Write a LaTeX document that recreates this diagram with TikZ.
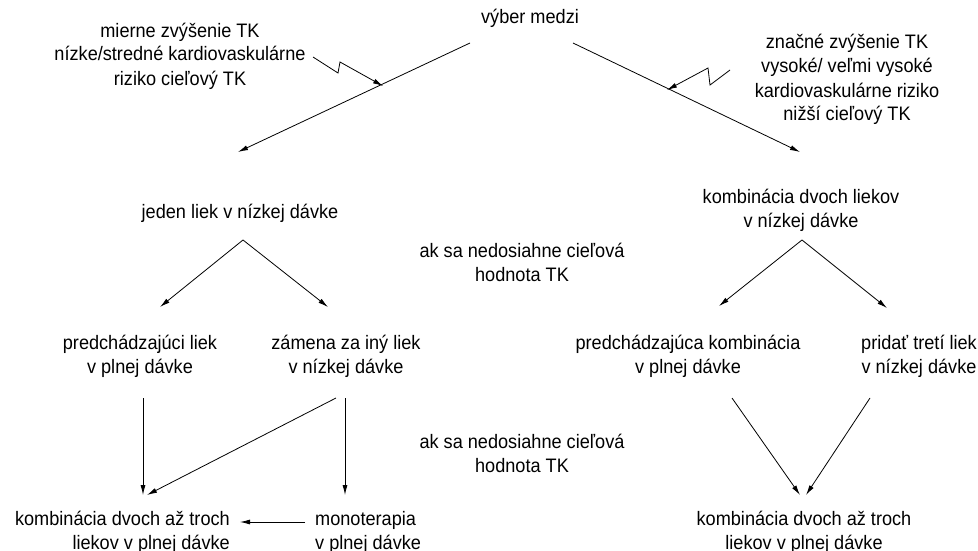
\documentclass[tikz,border=0pt]{standalone}
\usepackage{fontspec}
\setmainfont{Liberation Sans}[FakeStretch=0.93]
\usetikzlibrary{arrows.meta}
\tikzset{
  txt/.style={inner sep=0pt, align=center, font=\fontsize{19.5}{24}\selectfont, anchor=base},
  arr/.style={line width=0.8pt, -{Latex[length=10pt,width=5pt]}},
  ln/.style={line width=0.8pt}
}
\begin{document}
\begin{tikzpicture}[x=1pt,y=-1pt]
\useasboundingbox (0,0) rectangle (978,551);
% texts (anchor = baseline of the last line)
\node[txt] (vyber) at (530,24) {výber medzi};
\node[txt] (mierne) at (180,85) {mierne zvýšenie TK\\nízke/stredné kardiovaskulárne\\riziko cieľový TK};
\node[txt] (znacne) at (847,121) {značné zvýšenie TK\\vysoké/ veľmi vysoké\\kardiovaskulárne riziko\\nižší cieľový TK};
\node[txt] (jeden) at (240,218) {jeden liek v nízkej dávke};
\node[txt] (komb2) at (801,227) {kombinácia dvoch liekov\\v nízkej dávke};
\node[txt] (ak1) at (522,281) {ak sa nedosiahne cieľová\\hodnota TK};
\node[txt] (pred1) at (140,373) {predchádzajúci liek\\v plnej dávke};
\node[txt] (zamena) at (346,373) {zámena za iný liek\\v nízkej dávke};
\node[txt] (pred2) at (688,373) {predchádzajúca kombinácia\\v plnej dávke};
\node[txt] (pridat) at (919,373) {pridať tretí liek\\v nízkej dávke};
\node[txt] (ak2) at (522,472) {ak sa nedosiahne cieľová\\hodnota TK};
\node[txt, align=right, anchor=base east] (kombL) at (230,549) {kombinácia dvoch až troch\\liekov v plnej dávke};
\node[txt, align=left, anchor=base west] (mono) at (315,549) {monoterapia\\v plnej dávke};
\node[txt] (kombR) at (804,549) {kombinácia dvoch až troch\\liekov v plnej dávke};
% connector end points
\coordinate (vL) at (470,43);
\coordinate (vR) at (573,43);
\coordinate (jT) at (238,152);
\coordinate (kT) at (800,152);
\coordinate (zl0) at (313,57);
\coordinate (zl1) at (338,73);
\coordinate (zl2) at (340,62);
\coordinate (zl3) at (383,86);
\coordinate (zr0) at (730,70);
\coordinate (zr1) at (710,85);
\coordinate (zr2) at (708,68);
\coordinate (zr3) at (667,90);
\coordinate (jA) at (243,240);
\coordinate (p1T) at (160,307);
\coordinate (zaT) at (328,307);
\coordinate (kA) at (802,240);
\coordinate (p2T) at (719,306);
\coordinate (prT) at (887,308);
\coordinate (p1B) at (143,398);
\coordinate (zaB1) at (336,398);
\coordinate (zaB2) at (345,398);
\coordinate (kLT) at (143,495);
\coordinate (kLT2) at (147,495);
\coordinate (moT) at (345,495);
\coordinate (moL) at (305,522);
\coordinate (kLR) at (240,522);
\coordinate (p2B) at (732,398);
\coordinate (prB) at (870,398);
\coordinate (kRT1) at (800,495);
\coordinate (kRT2) at (806,495);
% connectors
\draw[arr] (vL) -- (jT);
\draw[arr] (vR) -- (kT);
\draw[arr] (zl0) -- (zl1) -- (zl2) -- (zl3);
\draw[arr] (zr0) -- (zr1) -- (zr2) -- (zr3);
\draw[arr] (jA) -- (p1T);
\draw[arr] (jA) -- (zaT);
\draw[arr] (kA) -- (p2T);
\draw[arr] (kA) -- (prT);
\draw[arr] (p1B) -- (kLT);
\draw[arr] (zaB1) -- (kLT2);
\draw[arr] (zaB2) -- (moT);
\draw[arr] (moL) -- (kLR);
\draw[arr] (p2B) -- (kRT1);
\draw[arr] (prB) -- (kRT2);
\end{tikzpicture}
\end{document}
